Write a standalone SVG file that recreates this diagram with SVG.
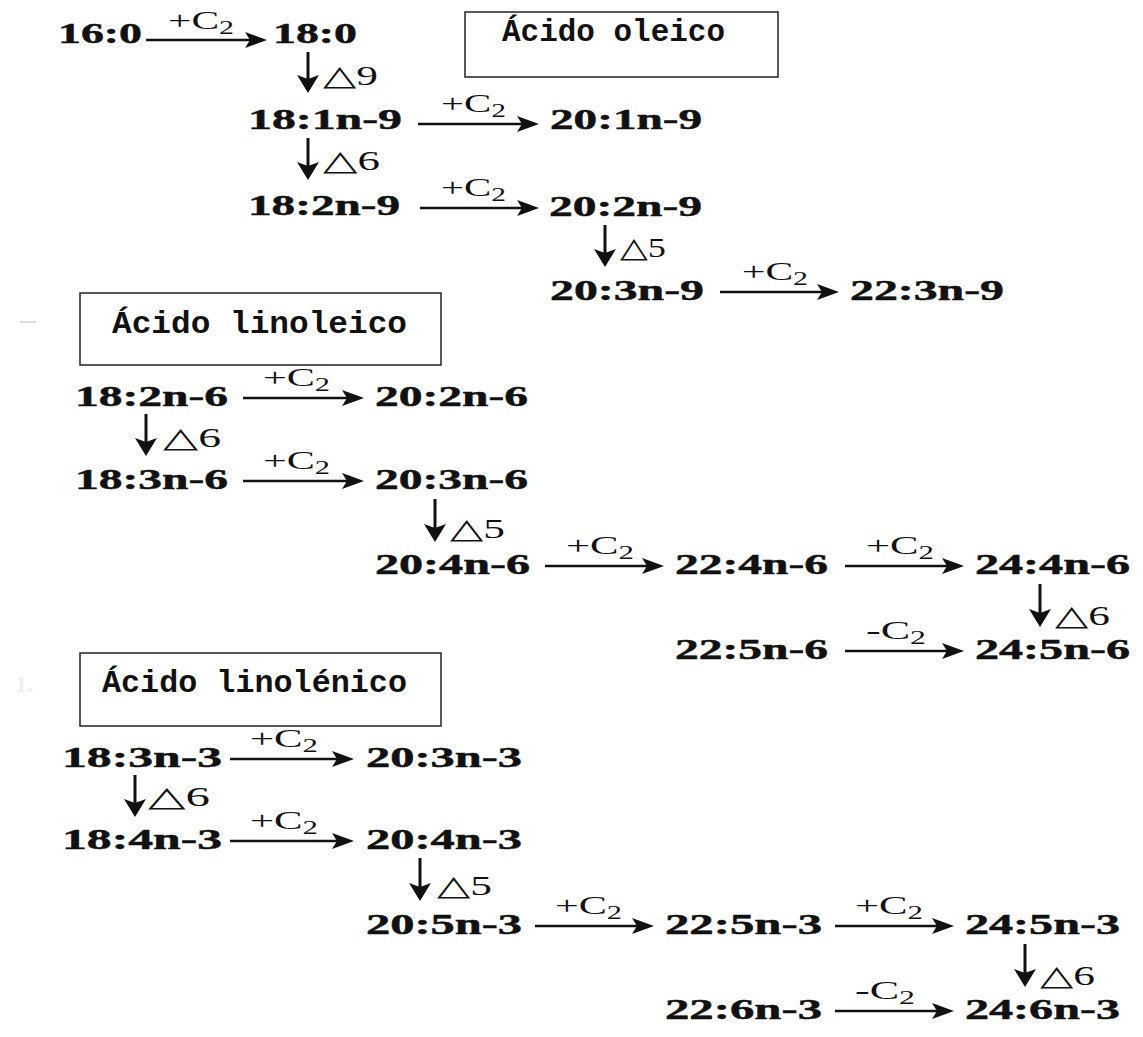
<svg xmlns="http://www.w3.org/2000/svg" width="1143" height="1037" viewBox="0 0 1143 1037">
<style>
.f{font-family:"Liberation Serif","Times New Roman",serif;font-weight:bold;font-size:30px;fill:#111;stroke:#111;stroke-width:0.5}
.l{font-family:"Liberation Serif","Times New Roman",serif;font-size:25px;fill:#111}
.s{font-size:18px}
.d{font-family:"Liberation Serif","DejaVu Sans",serif;font-size:28px;fill:#111}
.t{font-family:"DejaVu Sans",sans-serif}
.b{font-family:"Liberation Mono","Courier New",monospace;font-weight:bold;font-size:31px;fill:#111}
.box{fill:#fff;stroke:#222;stroke-width:1.5}
.a{stroke:#111;stroke-width:2.5;fill:none;marker-end:url(#ah)}
.v{stroke:#111;stroke-width:3;fill:none;marker-end:url(#ahv)}
</style>
<defs>
<marker id="ah" markerUnits="userSpaceOnUse" viewBox="0 0 22 16" refX="16" refY="8" markerWidth="22" markerHeight="16" orient="auto">
<path d="M0,0 L22,8 L0,16 L5,8 Z" fill="#111"/>
</marker>
<marker id="ahv" markerUnits="userSpaceOnUse" viewBox="0 0 18 22" refX="13" refY="11" markerWidth="18" markerHeight="22" orient="auto">
<path d="M0,0 L18,11 L0,22 L4,11 Z" fill="#111"/>
</marker>
</defs>
<rect width="1143" height="1037" fill="#fff"/>
<line x1="20" y1="322" x2="36" y2="322" stroke="#ddd" stroke-width="2"/>
<text x="15" y="692" style="font-family:'Liberation Serif',serif;font-size:24px;font-weight:bold;fill:#eee">1.</text>

<g id="box-oleico"><rect class="box" x="465" y="12" width="313" height="65"/><text class="b" x="502" y="41" textLength="223" lengthAdjust="spacingAndGlyphs">Ácido oleico</text></g>
<g id="box-linoleico"><rect class="box" x="80" y="293" width="361" height="72"/><text class="b" x="112" y="333" textLength="295" lengthAdjust="spacingAndGlyphs">Ácido linoleico</text></g>
<g id="box-linolenico"><rect class="box" x="80" y="653" width="361" height="73"/><text class="b" x="102" y="692" textLength="305" lengthAdjust="spacingAndGlyphs">Ácido linolénico</text></g>

<g id="n16_0"><text class="f" x="58" y="43" textLength="84" lengthAdjust="spacingAndGlyphs">16:0</text></g>
<g id="n18_0"><text class="f" x="273" y="43" textLength="84" lengthAdjust="spacingAndGlyphs">18:0</text></g>
<g id="n18_1n9"><text class="f" x="248" y="129" textLength="154" lengthAdjust="spacingAndGlyphs">18:1n-9</text></g>
<g id="n20_1n9"><text class="f" x="550" y="129" textLength="152" lengthAdjust="spacingAndGlyphs">20:1n-9</text></g>
<g id="n18_2n9"><text class="f" x="248" y="215" textLength="152" lengthAdjust="spacingAndGlyphs">18:2n-9</text></g>
<g id="n20_2n9"><text class="f" x="549" y="216" textLength="153" lengthAdjust="spacingAndGlyphs">20:2n-9</text></g>
<g id="n20_3n9"><text class="f" x="550" y="300" textLength="154" lengthAdjust="spacingAndGlyphs">20:3n-9</text></g>
<g id="n22_3n9"><text class="f" x="850" y="300" textLength="154" lengthAdjust="spacingAndGlyphs">22:3n-9</text></g>
<g id="n18_2n6"><text class="f" x="75" y="406" textLength="153" lengthAdjust="spacingAndGlyphs">18:2n-6</text></g>
<g id="n20_2n6"><text class="f" x="375" y="406" textLength="153" lengthAdjust="spacingAndGlyphs">20:2n-6</text></g>
<g id="n18_3n6"><text class="f" x="75" y="489" textLength="153" lengthAdjust="spacingAndGlyphs">18:3n-6</text></g>
<g id="n20_3n6"><text class="f" x="375" y="489" textLength="153" lengthAdjust="spacingAndGlyphs">20:3n-6</text></g>
<g id="n20_4n6"><text class="f" x="375" y="574" textLength="155" lengthAdjust="spacingAndGlyphs">20:4n-6</text></g>
<g id="n22_4n6"><text class="f" x="675" y="574" textLength="153" lengthAdjust="spacingAndGlyphs">22:4n-6</text></g>
<g id="n24_4n6"><text class="f" x="975" y="574" textLength="155" lengthAdjust="spacingAndGlyphs">24:4n-6</text></g>
<g id="n22_5n6"><text class="f" x="675" y="659" textLength="153" lengthAdjust="spacingAndGlyphs">22:5n-6</text></g>
<g id="n24_5n6"><text class="f" x="975" y="659" textLength="155" lengthAdjust="spacingAndGlyphs">24:5n-6</text></g>
<g id="n18_3n3"><text class="f" x="62" y="767" textLength="160" lengthAdjust="spacingAndGlyphs">18:3n-3</text></g>
<g id="n20_3n3"><text class="f" x="366" y="767" textLength="156" lengthAdjust="spacingAndGlyphs">20:3n-3</text></g>
<g id="n18_4n3"><text class="f" x="62" y="849" textLength="160" lengthAdjust="spacingAndGlyphs">18:4n-3</text></g>
<g id="n20_4n3"><text class="f" x="366" y="849" textLength="156" lengthAdjust="spacingAndGlyphs">20:4n-3</text></g>
<g id="n20_5n3"><text class="f" x="366" y="934" textLength="156" lengthAdjust="spacingAndGlyphs">20:5n-3</text></g>
<g id="n22_5n3"><text class="f" x="665" y="934" textLength="157" lengthAdjust="spacingAndGlyphs">22:5n-3</text></g>
<g id="n24_5n3"><text class="f" x="965" y="934" textLength="155" lengthAdjust="spacingAndGlyphs">24:5n-3</text></g>
<g id="n22_6n3"><text class="f" x="665" y="1019" textLength="157" lengthAdjust="spacingAndGlyphs">22:6n-3</text></g>
<g id="n24_6n3"><text class="f" x="965" y="1019" textLength="155" lengthAdjust="spacingAndGlyphs">24:6n-3</text></g>

<g id="connectors">
<line class="a" x1="146" y1="40" x2="261" y2="40"/>
<text class="l" x="168" y="29" textLength="66" lengthAdjust="spacingAndGlyphs">+C<tspan class="s" dy="5">2</tspan></text>
<line class="a" x1="418" y1="124" x2="533" y2="124"/>
<text class="l" x="441" y="112" textLength="65" lengthAdjust="spacingAndGlyphs">+C<tspan class="s" dy="5">2</tspan></text>
<line class="a" x1="420" y1="208" x2="533" y2="208"/>
<text class="l" x="441" y="196" textLength="65" lengthAdjust="spacingAndGlyphs">+C<tspan class="s" dy="5">2</tspan></text>
<line class="a" x1="720" y1="292" x2="833" y2="292"/>
<text class="l" x="742" y="280" textLength="66" lengthAdjust="spacingAndGlyphs">+C<tspan class="s" dy="5">2</tspan></text>
<line class="a" x1="243" y1="398" x2="358" y2="398"/>
<text class="l" x="263" y="386" textLength="67" lengthAdjust="spacingAndGlyphs">+C<tspan class="s" dy="5">2</tspan></text>
<line class="a" x1="243" y1="481" x2="358" y2="481"/>
<text class="l" x="263" y="469" textLength="67" lengthAdjust="spacingAndGlyphs">+C<tspan class="s" dy="5">2</tspan></text>
<line class="a" x1="545" y1="566" x2="658" y2="566"/>
<text class="l" x="566" y="554" textLength="68" lengthAdjust="spacingAndGlyphs">+C<tspan class="s" dy="5">2</tspan></text>
<line class="a" x1="845" y1="566" x2="958" y2="566"/>
<text class="l" x="866" y="554" textLength="68" lengthAdjust="spacingAndGlyphs">+C<tspan class="s" dy="5">2</tspan></text>
<line class="a" x1="845" y1="651" x2="958" y2="651"/>
<text class="l" x="866" y="639" textLength="60" lengthAdjust="spacingAndGlyphs">-C<tspan class="s" dy="5">2</tspan></text>
<line class="a" x1="230" y1="759" x2="348" y2="759"/>
<text class="l" x="250" y="747" textLength="68" lengthAdjust="spacingAndGlyphs">+C<tspan class="s" dy="5">2</tspan></text>
<line class="a" x1="230" y1="841" x2="348" y2="841"/>
<text class="l" x="250" y="829" textLength="68" lengthAdjust="spacingAndGlyphs">+C<tspan class="s" dy="5">2</tspan></text>
<line class="a" x1="535" y1="926" x2="648" y2="926"/>
<text class="l" x="555" y="914" textLength="67" lengthAdjust="spacingAndGlyphs">+C<tspan class="s" dy="5">2</tspan></text>
<line class="a" x1="835" y1="926" x2="948" y2="926"/>
<text class="l" x="855" y="914" textLength="68" lengthAdjust="spacingAndGlyphs">+C<tspan class="s" dy="5">2</tspan></text>
<line class="a" x1="835" y1="1011" x2="948" y2="1011"/>
<text class="l" x="855" y="999" textLength="60" lengthAdjust="spacingAndGlyphs">-C<tspan class="s" dy="5">2</tspan></text>

<line class="v" x1="308" y1="52" x2="308" y2="88"/>
<text class="d" x="323" y="85" textLength="55" lengthAdjust="spacingAndGlyphs"><tspan class="t">△</tspan>9</text>
<line class="v" x1="308" y1="138" x2="308" y2="175"/>
<text class="d" x="323" y="170" textLength="57" lengthAdjust="spacingAndGlyphs"><tspan class="t">△</tspan>6</text>
<line class="v" x1="605" y1="225" x2="605" y2="262"/>
<text class="d" x="620" y="257" textLength="46" lengthAdjust="spacingAndGlyphs"><tspan class="t">△</tspan>5</text>
<line class="v" x1="146" y1="414" x2="146" y2="451"/>
<text class="d" x="163" y="447" textLength="58" lengthAdjust="spacingAndGlyphs"><tspan class="t">△</tspan>6</text>
<line class="v" x1="435" y1="499" x2="435" y2="537"/>
<text class="d" x="450" y="538" textLength="55" lengthAdjust="spacingAndGlyphs"><tspan class="t">△</tspan>5</text>
<line class="v" x1="1040" y1="584" x2="1040" y2="622"/>
<text class="d" x="1055" y="625" textLength="55" lengthAdjust="spacingAndGlyphs"><tspan class="t">△</tspan>6</text>
<line class="v" x1="135" y1="775" x2="135" y2="812"/>
<text class="d" x="148" y="806" textLength="62" lengthAdjust="spacingAndGlyphs"><tspan class="t">△</tspan>6</text>
<line class="v" x1="420" y1="858" x2="420" y2="896"/>
<text class="d" x="437" y="895" textLength="55" lengthAdjust="spacingAndGlyphs"><tspan class="t">△</tspan>5</text>
<line class="v" x1="1025" y1="944" x2="1025" y2="982"/>
<text class="d" x="1040" y="985" textLength="55" lengthAdjust="spacingAndGlyphs"><tspan class="t">△</tspan>6</text>
</g>
</svg>
